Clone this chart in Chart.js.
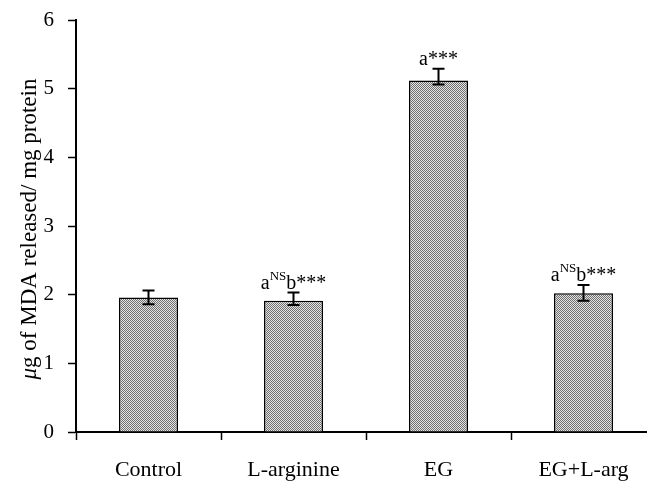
<!DOCTYPE html>
<html>
<head>
<meta charset="utf-8">
<script src="https://cdn.jsdelivr.net/npm/chart.js@4.4.1/dist/chart.umd.min.js"></script>
<style>
    html, body { margin: 0; padding: 0; background: #fff; overflow: hidden; }
    canvas { display: block; }
</style>
</head>
<body>
<canvas id="mda-chart" width="670" height="481"></canvas>
<script>
const categories = ['Control', 'L-arginine', 'EG', 'EG+L-arg'];
const means = [1.96, 1.91, 5.12, 2.02];
const errPlus = [0.10, 0.12, 0.17, 0.12];
const errMinus = [0.10, 0.06, 0.06, 0.11];
const yTicks = [0, 1, 2, 3, 4, 5, 6];
// significance marks above each bar: [text, isSuperscript]
const marks = [
    [],
    [['a'], ['NS', true], ['b'], ['***']],
    [['a'], ['***']],
    [['a'], ['NS', true], ['b'], ['***']]
];

const serif = '"Liberation Serif", "Times New Roman", serif';

function makePattern() {
    const c = document.createElement('canvas');
    c.width = 2; c.height = 2;
    const p = c.getContext('2d');
    p.fillStyle = '#e4e4e4';
    p.fillRect(0, 0, 2, 2);
    p.fillStyle = '#707070';
    p.fillRect(0, 0, 1, 1);
    p.fillRect(1, 1, 1, 1);
    return document.getElementById('mda-chart').getContext('2d').createPattern(c, 'repeat');
}

const extras = {
    id: 'extras',
    afterDatasetsDraw(chart) {
        const ctx = chart.ctx, x = chart.scales.x, y = chart.scales.y;
        ctx.save();
        ctx.strokeStyle = '#000';
        ctx.lineWidth = 2;
        ctx.fillStyle = '#000';
        means.forEach((m, i) => {
            const cx = x.getPixelForValue(i);
            const top = y.getPixelForValue(m + errPlus[i]);
            const bot = y.getPixelForValue(m - errMinus[i]);
            ctx.beginPath();
            ctx.moveTo(cx, top); ctx.lineTo(cx, bot);
            ctx.moveTo(cx - 6, top); ctx.lineTo(cx + 6, top);
            ctx.moveTo(cx - 6, bot); ctx.lineTo(cx + 6, bot);
            ctx.stroke();

            // text above error bar
            const parts = marks[i];
            if (!parts.length) return;
            let total = 0;
            parts.forEach(pt => {
                ctx.font = (pt[1] ? '13px ' : '20px ') + serif;
                total += ctx.measureText(pt[0]).width;
            });
            let px = cx - total / 2;
            const base = top - 4;
            ctx.textAlign = 'left';
            ctx.textBaseline = 'alphabetic';
            parts.forEach(pt => {
                ctx.font = (pt[1] ? '13px ' : '20px ') + serif;
                ctx.fillText(pt[0], px, pt[1] ? base - 9 : base);
                px += ctx.measureText(pt[0]).width;
            });
        });
        ctx.restore();
    },
    afterDraw(chart) {
        const ctx = chart.ctx, y = chart.scales.y;
        ctx.save();
        ctx.translate(30, (y.top + y.bottom) / 2 + 3);
        ctx.rotate(-Math.PI / 2);
        ctx.fillStyle = '#000';
        ctx.textBaseline = 'middle';
        ctx.textAlign = 'left';
        ctx.font = 'italic 23px ' + serif;
        const mu = 'μ';
        const wMu = ctx.measureText(mu).width;
        ctx.font = '23px ' + serif;
        const rest = 'g of MDA released/ mg protein';
        const wRest = ctx.measureText(rest).width;
        const start = -(wMu + wRest) / 2;
        ctx.font = 'italic 23px ' + serif;
        ctx.fillText(mu, start, 0);
        ctx.font = '23px ' + serif;
        ctx.fillText(rest, start + wMu, 0);
        ctx.restore();
    }
};

new Chart(document.getElementById('mda-chart'), {
    type: 'bar',
    data: {
        labels: categories,
        datasets: [{
            data: means,
            backgroundColor: makePattern(),
            borderColor: '#000',
            borderWidth: 1.5,
            barPercentage: 0.407,
            categoryPercentage: 1.0
        }]
    },
    options: {
        responsive: false,
        animation: false,
        layout: {
            padding: { top: 20, right: 14, left: 0, bottom: 0 }
        },
        plugins: {
            legend: { display: false },
            tooltip: { enabled: false }
        },
        scales: {
            x: {
                offset: true,
                grid: {
                    offset: true,
                    drawOnChartArea: false,
                    drawTicks: true,
                    tickLength: 8,
                    tickWidth: 1.5,
                    tickColor: '#000'
                },
                border: { color: '#000', width: 2 },
                ticks: {
                    color: '#000',
                    padding: 17,
                    font: { family: serif, size: 22 }
                },
                afterFit(scale) {
                    scale.height = 49;
                    scale.paddingLeft = 0;
                    scale.paddingRight = 0;
                }
            },
            y: {
                min: 0,
                max: 6,
                afterBuildTicks(scale) {
                    scale.ticks = yTicks.map(v => ({ value: v }));
                },
                grid: {
                    drawOnChartArea: false,
                    drawTicks: true,
                    tickLength: 8,
                    tickWidth: 1.5,
                    tickColor: '#000'
                },
                border: { color: '#000', width: 2 },
                ticks: {
                    color: '#000',
                    padding: 14,
                    font: { family: serif, size: 21 }
                },
                afterFit(scale) {
                    scale.width = 76;
                    scale.paddingTop = 0;
                    scale.paddingBottom = 0;
                }
            }
        }
    },
    plugins: [extras]
});
</script>
</body>
</html>
